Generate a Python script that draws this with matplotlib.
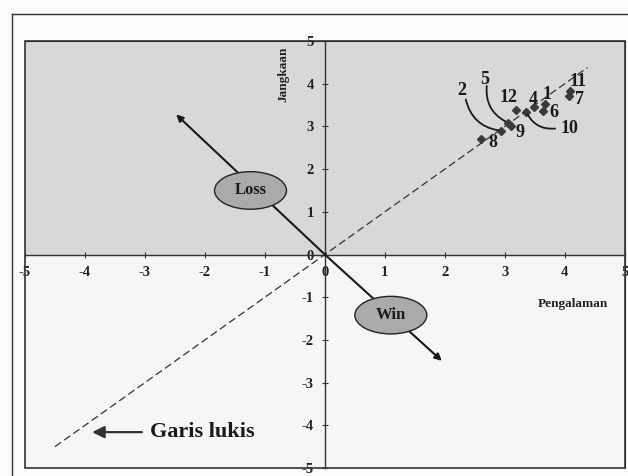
import matplotlib
matplotlib.use("Agg")
import matplotlib.pyplot as plt
from matplotlib.patches import Ellipse, Rectangle
from matplotlib.lines import Line2D

plt.rcParams['font.family'] = ['Liberation Serif', 'DejaVu Serif']

# Data: respondent positions (Pengalaman, Jangkaan)
names = ['1', '2', '4', '5', '6', '7', '8', '9', '10', '11', '12']
pengalaman = [3.67, 2.94, 3.48, 3.05, 3.64, 4.07, 2.61, 3.10, 3.36, 4.08, 3.19]
jangkaan = [3.53, 2.90, 3.46, 3.09, 3.37, 3.71, 2.70, 3.00, 3.34, 3.83, 3.39]

# Where each number label sits
label_pos = {
    '1': (3.70, 3.74), '2': (2.28, 3.83), '4': (3.48, 3.62), '5': (2.67, 4.10),
    '6': (3.82, 3.33), '7': (4.24, 3.63), '8': (2.80, 2.63), '9': (3.25, 2.86),
    '10': (4.08, 2.94), '11': (4.22, 4.06), '12': (3.07, 3.68),
}
leaders = {'2': (2.35, 3.63), '5': (2.70, 3.95), '10': (3.84, 2.95)}

ticks = [-5, -4, -3, -2, -1, 0, 1, 2, 3, 4, 5]

# "Garis lukis" diagonal and the Win/Loss direction arrow
garis_x = [-4.5, 4.38]
garis_y = [-4.5, 4.38]
winloss_start = (-2.48, 3.28)
winloss_end = (1.95, -2.49)

fig = plt.figure(figsize=(6.28, 4.76), dpi=100)
fig.patch.set_facecolor('#fbfbfb')

# outer frame of the scanned figure
fig.add_artist(Line2D([0.019, 1.0], [0.971, 0.971], color='#333333', lw=1.0))
fig.add_artist(Line2D([0.019, 0.019], [0.0, 0.971], color='#333333', lw=1.0))

ax = fig.add_axes([0.0398, 0.0168, 0.955, 0.897])
ax.set_xlim(-5, 5)
ax.set_ylim(-5, 5)
ax.set_facecolor('#f6f6f6')
ax.axhspan(0, 5, color='#d8d8d8', zorder=0)

for s in ['top', 'right']:
    ax.spines[s].set_color('#333333')
ax.spines['left'].set_position('zero')
ax.spines['bottom'].set_position('zero')
ax.spines['left'].set_color('#333333')
ax.spines['bottom'].set_color('#333333')
ax.spines['left'].set_linewidth(1.0)
ax.spines['bottom'].set_linewidth(1.0)
ax.add_patch(Rectangle((0, 0), 1, 1, transform=ax.transAxes, fill=False,
                       ec='#333333', lw=1.2, zorder=5, clip_on=False))

ax.set_xticks(ticks)
ax.set_yticks(ticks)
ax.set_xticklabels([str(t) for t in ticks])
ax.set_yticklabels([str(t) for t in ticks])
ax.tick_params(direction='inout', length=4, width=0.8, color='#333333',
               labelsize=10.5, labelcolor='#222222', pad=6)
for lab in ax.get_xticklabels() + ax.get_yticklabels():
    lab.set_fontweight('bold')

# garis lukis (dashed diagonal)
ax.plot(garis_x, garis_y, ls=(0, (6, 3)), color='#333333', lw=0.9, zorder=2)

# win / loss double arrow
ax.annotate('', xy=winloss_end, xytext=(0, 0),
            arrowprops=dict(arrowstyle='-|>', color='#1a1a1a', lw=1.5,
                            mutation_scale=10, shrinkA=0, shrinkB=0), zorder=3)
ax.annotate('', xy=winloss_start, xytext=(0, 0),
            arrowprops=dict(arrowstyle='-|>', color='#1a1a1a', lw=1.5,
                            mutation_scale=10, shrinkA=0, shrinkB=0), zorder=3)

for txt, cx, cy in [('Loss', -1.24, 1.50), ('Win', 1.10, -1.42)]:
    ax.add_patch(Ellipse((cx, cy), 1.2, 0.88, fc='#aaaaaa', ec='#222222',
                         lw=1.0, zorder=4))
    ax.text(cx, cy, txt, ha='center', va='center', fontsize=12,
            fontweight='bold', color='#1a1a1a', zorder=5)

# respondent points
ax.plot(pengalaman, jangkaan, ls='', marker='D', markersize=4,
        color='#3a3a3a', zorder=6)

for n, px, py in zip(names, pengalaman, jangkaan):
    tx, ty = label_pos[n]
    ax.text(tx, ty, n, ha='center', va='center', fontsize=13,
            fontweight='bold', color='#1a1a1a', zorder=7)
    if n in leaders:
        rad = -0.35 if n == '10' else 0.35
        ax.annotate('', xy=(px, py), xytext=leaders[n],
                    arrowprops=dict(arrowstyle='-', color='#1a1a1a', lw=1.3,
                                    connectionstyle='arc3,rad=%s' % rad,
                                    shrinkA=0, shrinkB=2), zorder=7)

# axis titles
ax.text(-0.70, 4.22, 'Jangkaan', rotation=90, ha='center', va='center',
        fontsize=9.5, fontweight='bold', color='#222222')
ax.text(4.13, -1.15, 'Pengalaman', ha='center', va='center',
        fontsize=9.5, fontweight='bold', color='#222222')

# Garis lukis label with arrow
ax.annotate('', xy=(-3.88, -4.16), xytext=(-3.05, -4.16),
            arrowprops=dict(arrowstyle='-|>', color='#333333', lw=1.6,
                            mutation_scale=18, shrinkA=0, shrinkB=0))
ax.text(-2.92, -4.16, 'Garis lukis', ha='left', va='center', fontsize=16,
        fontweight='bold', color='#1a1a1a')

fig.savefig('out.png', dpi=100, facecolor=fig.get_facecolor())
